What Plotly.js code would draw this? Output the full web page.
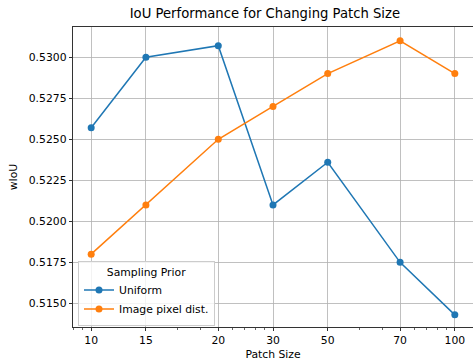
<!DOCTYPE html>
<html>
<head>
<meta charset="utf-8">
<script src="https://cdn.plot.ly/plotly-3.0.1.min.js"></script>
<style>html,body{margin:0;padding:0;background:#fff;}#chart{width:473px;height:361px;}</style>
</head>
<body>
<div id="chart"></div>
<script>
// Tick labels (patch sizes) and their positions on the underlying log axis
var patchLabels = ["10", "15", "20", "30", "50", "70", "100"];
var patchPos = [100, 200, 500, 1000, 2000, 5000, 10000];
var uniform = [0.5257, 0.5300, 0.5307, 0.5210, 0.5236, 0.5175, 0.5143];
var imagePixel = [0.5180, 0.5210, 0.5250, 0.5270, 0.5290, 0.5310, 0.5290];
var yTicks = [0.5150, 0.5175, 0.5200, 0.5225, 0.5250, 0.5275, 0.5300];
var minorPos = [80, 90, 300, 400, 600, 700, 800, 900, 3000, 4000, 6000, 7000, 8000, 9000];

var font = {family: "DejaVu Sans", size: 10.8, color: "#000"};
var traces = [
  {x: patchPos, y: uniform, name: "Uniform", type: "scatter", mode: "lines+markers",
   line: {color: "#1f77b4", width: 1.5}, marker: {color: "#1f77b4", size: 7}},
  {x: patchPos, y: imagePixel, name: "Image pixel dist.", type: "scatter", mode: "lines+markers",
   line: {color: "#ff7f0e", width: 1.5}, marker: {color: "#ff7f0e", size: 7}}
];
var layout = {
  width: 473, height: 361,
  margin: {l: 73, r: 0, t: 27, b: 34},
  paper_bgcolor: "#fff", plot_bgcolor: "#fff",
  font: font,
  title: {text: "IoU Performance for Changing Patch Size", font: {family: "DejaVu Sans", size: 13.2, color: "#000"},
          x: 0.56, xanchor: "center", y: 0.962, yanchor: "middle"},
  xaxis: {
    type: "log", range: [1.9, 4.1],
    tickmode: "array", tickvals: patchPos, ticktext: patchLabels,
    ticks: "outside", ticklen: 3.5, tickwidth: 0.8, tickcolor: "#000",
    showline: true, linecolor: "#000", linewidth: 0.8, mirror: true,
    showgrid: true, gridcolor: "#b0b0b0", gridwidth: 0.8, zeroline: false,
    tickfont: font,
    minor: {tickmode: "array", tickvals: minorPos, ticks: "outside", ticklen: 2, tickwidth: 0.6, tickcolor: "#000", showgrid: false},
    title: {text: "Patch Size", font: font, standoff: 6}
  },
  yaxis: {
    range: [0.51356, 0.53184],
    tickmode: "array", tickvals: yTicks, tickformat: ".4f",
    ticks: "outside", ticklen: 3.5, tickwidth: 0.8, tickcolor: "#000",
    showline: true, linecolor: "#000", linewidth: 0.8, mirror: true,
    showgrid: true, gridcolor: "#b0b0b0", gridwidth: 0.8, zeroline: false,
    tickfont: font,
    title: {text: "wIoU", font: font, standoff: 8}
  },
  legend: {
    x: 0.0125, y: 0.005, xanchor: "left", yanchor: "bottom",
    bgcolor: "rgba(255,255,255,0.8)", bordercolor: "#cccccc", borderwidth: 1,
    font: font,
    title: {text: "Sampling Prior", side: "top center", font: font},
    tracegroupgap: 0, itemwidth: 30
  },
  showlegend: true
};
Plotly.newPlot("chart", traces, layout, {displayModeBar: false, staticPlot: true});
</script>
</body>
</html>
